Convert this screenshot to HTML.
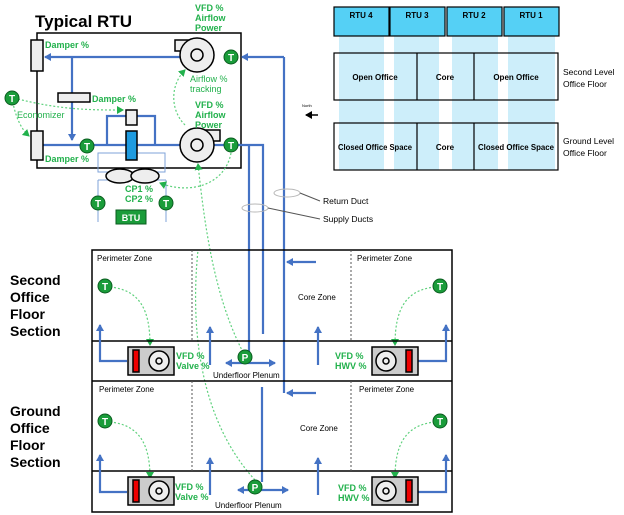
<html><body style="margin:0;background:#fff">
<svg width="624" height="515" xmlns="http://www.w3.org/2000/svg" font-family="Liberation Sans, sans-serif">
<defs>
<marker id="b" markerWidth="8" markerHeight="8" refX="6" refY="4" orient="auto" markerUnits="userSpaceOnUse"><path d="M0,0L7,4L0,8z" fill="#4472c4"/></marker>
<marker id="g" markerWidth="8" markerHeight="8" refX="6" refY="4" orient="auto" markerUnits="userSpaceOnUse"><path d="M0,0L7,4L0,8z" fill="#22b14c"/></marker>
<marker id="k" markerWidth="8" markerHeight="8" refX="6" refY="4" orient="auto" markerUnits="userSpaceOnUse"><path d="M0,0L7,4L0,8z" fill="#000"/></marker>
<g id="T"><circle r="7" fill="#1a9c3a" stroke="#0a5d1f"/><text y="4" text-anchor="middle" font-size="10" font-weight="bold" fill="#fff">T</text></g>
<g id="P"><circle r="7" fill="#1a9c3a" stroke="#0a5d1f"/><text y="4" text-anchor="middle" font-size="10" font-weight="bold" fill="#fff">P</text></g>
</defs>
<!-- right grid -->
<g fill="#cdeefa"><rect x="339" y="36" width="45" height="134"/><rect x="394" y="36" width="45" height="134"/><rect x="452" y="36" width="46" height="134"/><rect x="508" y="36" width="47" height="134"/></g>
<g fill="#55d0f5" stroke="#000" stroke-width="1.2"><rect x="334" y="7" width="55" height="29"/><rect x="390" y="7" width="55" height="29"/><rect x="447" y="7" width="55" height="29"/><rect x="504" y="7" width="55" height="29"/></g>
<g font-size="8" font-weight="bold" text-anchor="middle"><text x="361" y="18">RTU 4</text><text x="417" y="18">RTU 3</text><text x="474" y="18">RTU 2</text><text x="531" y="18">RTU 1</text>
<text x="375" y="80">Open Office</text><text x="445" y="80">Core</text><text x="516" y="80">Open Office</text>
<text x="375" y="150" textLength="74" lengthAdjust="spacingAndGlyphs">Closed Office Space</text><text x="445" y="150">Core</text><text x="516" y="150" textLength="76" lengthAdjust="spacingAndGlyphs">Closed Office Space</text></g>
<g fill="none" stroke="#000" stroke-width="1.2"><rect x="334" y="53" width="224" height="47"/><rect x="334" y="123" width="224" height="47"/><path d="M417,53V100M474,53V100M417,123V170M474,123V170"/></g>
<g font-size="8.5"><text x="563" y="75">Second Level</text><text x="563" y="87">Office Floor</text><text x="563" y="144">Ground Level</text><text x="563" y="156">Office Floor</text>
<text x="302" y="107" font-size="4">North</text><text x="323" y="204">Return Duct</text><text x="323" y="222">Supply Ducts</text></g>
<path d="M318,115H306" stroke="#000" stroke-width="1.5" marker-end="url(#k)"/>
<!-- RTU -->
<text x="35" y="27" font-size="17" font-weight="bold">Typical RTU</text>
<rect x="37" y="33" width="204" height="135" fill="none" stroke="#000" stroke-width="1.5"/>
<g stroke="#4472c4" stroke-width="2.2" fill="none">
<path d="M180,57H45" marker-end="url(#b)"/><path d="M72,57V140" marker-end="url(#b)"/>
<path d="M43,145H180"/><path d="M107,145V116H155V145"/><path d="M214,145H263V334"/><path d="M249,145V355"/>
<path d="M284,57V393"/><path d="M284,57H242" marker-end="url(#b)"/>
<path d="M316,262H287" marker-end="url(#b)"/><path d="M316,393H287" marker-end="url(#b)"/>
<path d="M262,387V482"/>
</g>
<g stroke="#7fa3d9" fill="none" stroke-width="1"><path d="M98,180V222M166,180V222M98,180H113M151,180H166"/><rect x="98" y="153" width="67" height="19"/></g>
<g fill="#eee" stroke="#000" stroke-width="1.5"><rect x="31" y="40" width="12" height="31"/><rect x="31" y="131" width="12" height="29"/><rect x="58" y="93" width="32" height="9"/><rect x="126" y="110" width="11" height="15"/>
<rect x="175" y="40" width="25" height="11"/><circle cx="197" cy="55" r="17"/><circle cx="197" cy="55" r="6"/>
<rect x="195" y="130" width="25" height="11"/><circle cx="197" cy="145" r="17"/><circle cx="197" cy="145" r="6"/>
<ellipse cx="120" cy="176" rx="14" ry="7"/><ellipse cx="145" cy="176" rx="14" ry="7"/></g>
<rect x="126" y="131" width="11" height="29" fill="#1e9be0" stroke="#000" stroke-width="1.5"/>
<rect x="116" y="210" width="30" height="14" fill="#1a9c3a" stroke="#0a5d1f"/><text x="131" y="221" font-size="9" font-weight="bold" fill="#fff" text-anchor="middle">BTU</text>
<g fill="none" stroke="#b8b8b8"><ellipse cx="287" cy="193" rx="13" ry="4"/><ellipse cx="255" cy="208" rx="13" ry="4"/></g>
<path d="M300,193L320,201M268,208L320,219" stroke="#555" fill="none"/>
<g stroke="#5fd17d" stroke-width="1.2" stroke-dasharray="2,2" fill="none">
<path d="M12,98C15,115 20,128 29,136" marker-end="url(#g)"/><path d="M14,98C60,110 90,110 123,110" marker-end="url(#g)"/>
<path d="M185,125C170,110 170,85 185,70" marker-end="url(#g)"/><path d="M231,153C225,185 190,195 160,183" marker-end="url(#g)"/>
<path d="M245,356C215,300 205,230 198,164" marker-end="url(#g)"/><path d="M255,480C200,420 190,330 198,250"/>
<path d="M110,287C140,290 150,310 150,345" marker-end="url(#g)"/><path d="M435,287C405,290 395,310 395,345" marker-end="url(#g)"/>
<path d="M110,422C140,425 150,445 150,478" marker-end="url(#g)"/><path d="M435,422C405,425 395,445 395,478" marker-end="url(#g)"/>
</g>
<use href="#T" x="231" y="57"/><use href="#T" x="231" y="145"/><use href="#T" x="87" y="146"/><use href="#T" x="12" y="98"/><use href="#T" x="98" y="203"/><use href="#T" x="166" y="203"/>
<g font-size="9" font-weight="bold" fill="#22b14c"><text x="195" y="11">VFD %</text><text x="195" y="21">Airflow</text><text x="195" y="31">Power</text>
<text x="45" y="48">Damper %</text><text x="92" y="102">Damper %</text><text x="45" y="162">Damper %</text>
<text x="195" y="108">VFD %</text><text x="195" y="118">Airflow</text><text x="195" y="128">Power</text>
<text x="125" y="192">CP1 %</text><text x="125" y="202">CP2 %</text></g>
<g font-size="9" fill="#22b14c"><text x="190" y="82">Airflow  %</text><text x="190" y="92">tracking</text><text x="17" y="118">Economizer</text></g>
<!-- floors -->
<g fill="none" stroke="#000" stroke-width="1.5"><rect x="92" y="250" width="360" height="262"/><path d="M92,341H452M92,381H452M92,471H452"/></g>
<path d="M192,250V341M351,250V341M192,381V471M351,381V471" stroke="#555" stroke-dasharray="2,2"/>
<g font-size="14" font-weight="bold"><text x="10" y="285">Second</text><text x="10" y="302">Office</text><text x="10" y="319">Floor</text><text x="10" y="336">Section</text>
<text x="10" y="416">Ground</text><text x="10" y="433">Office</text><text x="10" y="450">Floor</text><text x="10" y="467">Section</text></g>
<g font-size="8"><text x="97" y="261">Perimeter Zone</text><text x="357" y="261">Perimeter Zone</text><text x="99" y="392">Perimeter Zone</text><text x="359" y="392">Perimeter Zone</text>
<text x="298" y="300">Core Zone</text><text x="300" y="431">Core Zone</text><text x="213" y="378">Underfloor  Plenum</text><text x="215" y="508">Underfloor  Plenum</text></g>
<g stroke="#4472c4" stroke-width="2.2" fill="none">
<path d="M127,361H100V325" marker-end="url(#b)"/><path d="M418,361H446V325" marker-end="url(#b)"/>
<path d="M127,492H100V455" marker-end="url(#b)"/><path d="M418,492H446V455" marker-end="url(#b)"/>
<path d="M210,365V327" marker-end="url(#b)"/><path d="M318,365V327" marker-end="url(#b)"/><path d="M210,495V458" marker-end="url(#b)"/><path d="M318,495V458" marker-end="url(#b)"/>
<path d="M245,363H226" marker-end="url(#b)"/><path d="M245,363H275" marker-end="url(#b)"/>
<path d="M255,490H238" marker-end="url(#b)"/><path d="M255,490H288" marker-end="url(#b)"/>
</g>
<g stroke="#000" stroke-width="1.5">
<rect x="128" y="347" width="46" height="28" fill="#ccc"/><rect x="133" y="350" width="6" height="22" fill="#e00"/><circle cx="159" cy="361" r="10" fill="#eee"/><circle cx="159" cy="361" r="3" fill="#eee"/>
<rect x="372" y="347" width="46" height="28" fill="#ccc"/><rect x="406" y="350" width="6" height="22" fill="#e00"/><circle cx="386" cy="361" r="10" fill="#eee"/><circle cx="386" cy="361" r="3" fill="#eee"/>
<rect x="128" y="477" width="46" height="28" fill="#ccc"/><rect x="133" y="480" width="6" height="22" fill="#e00"/><circle cx="159" cy="491" r="10" fill="#eee"/><circle cx="159" cy="491" r="3" fill="#eee"/>
<rect x="372" y="477" width="46" height="28" fill="#ccc"/><rect x="406" y="480" width="6" height="22" fill="#e00"/><circle cx="386" cy="491" r="10" fill="#eee"/><circle cx="386" cy="491" r="3" fill="#eee"/>
</g>
<use href="#T" x="105" y="286"/><use href="#T" x="440" y="286"/><use href="#T" x="105" y="421"/><use href="#T" x="440" y="421"/>
<use href="#P" x="245" y="357"/><use href="#P" x="255" y="487"/>
<g font-size="9" font-weight="bold" fill="#22b14c"><text x="176" y="359">VFD %</text><text x="176" y="369">Valve %</text><text x="335" y="359">VFD %</text><text x="335" y="369">HWV %</text>
<text x="175" y="490">VFD %</text><text x="175" y="500">Valve %</text><text x="338" y="491">VFD %</text><text x="338" y="501">HWV %</text></g>
</svg>
</body></html>
